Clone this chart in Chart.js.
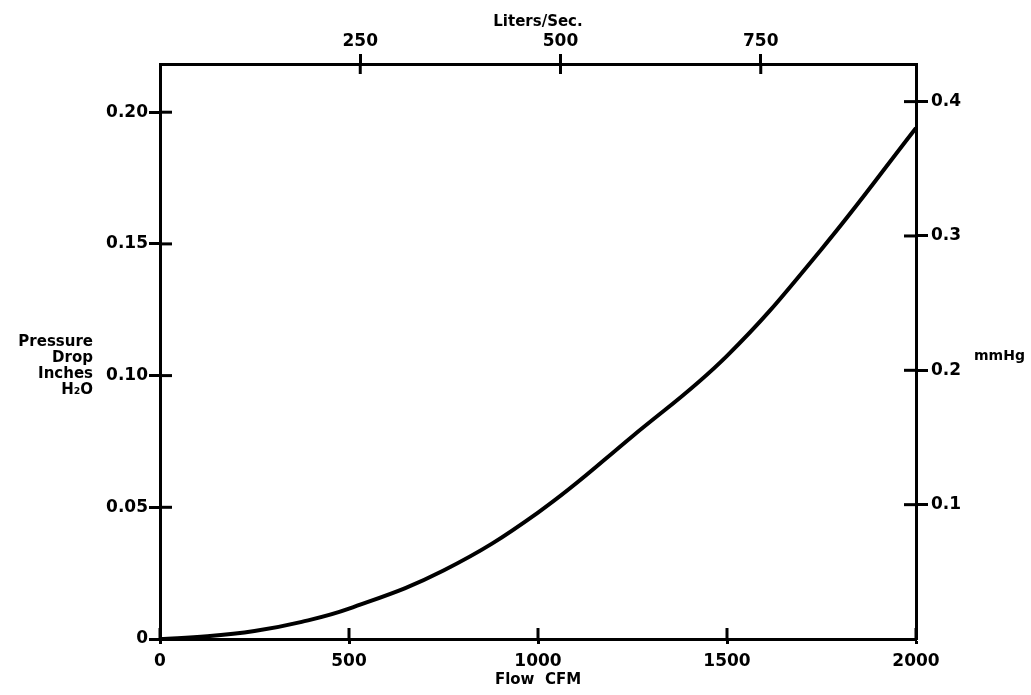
<!DOCTYPE html>
<html>
<head>
<meta charset="utf-8">
<script src="https://cdn.jsdelivr.net/npm/chart.js@4.4.1/dist/chart.umd.min.js"></script>
<style>
  html, body { margin: 0; padding: 0; background: #fff; }
  #wrap { width: 1031px; height: 695px; }
</style>
</head>
<body>
<div id="wrap"><canvas id="chart"></canvas></div>
<script>
// Flow in CFM vs pressure drop in inches of water
const flowCfm = [0, 125, 250, 375, 500, 750, 1000, 1250, 1500, 1750, 2000];
const pressureDrop = [0, 0.001, 0.003, 0.0065, 0.0115, 0.026, 0.048, 0.077, 0.1075, 0.148, 0.194];

const bottomTicks = [0, 500, 1000, 1500, 2000];
const leftTicks = [0, 0.05, 0.10, 0.15, 0.20];
const topTicks = [250, 500, 750];      // liters / sec
const rightTicks = [0.1, 0.2, 0.3, 0.4]; // mmHg
const leftTitle = ["Pressure", "Drop", "Inches", "H\u2082O"];

const LPS_PER_CFM = 0.4719;
const FONT = "'DejaVu Sans', sans-serif";

const innerTicks = {
    id: 'innerTicks',
    afterDraw(chart) {
        const ctx = chart.ctx;
        const lens = {x: 11, x2: 10, y: 12, y2: 12};
        ctx.save();
        ctx.strokeStyle = '#000';
        ctx.lineWidth = 3;
        Object.keys(lens).forEach(id => {
            const s = chart.scales[id];
            const L = lens[id];
            s.ticks.forEach(t => {
                const p = s.getPixelForValue(t.value);
                ctx.beginPath();
                if (id === 'x') { ctx.moveTo(p, s.top); ctx.lineTo(p, s.top - L); }
                if (id === 'x2') { ctx.moveTo(p, s.bottom); ctx.lineTo(p, s.bottom + L); }
                if (id === 'y') { ctx.moveTo(s.right, p); ctx.lineTo(s.right + L, p); }
                if (id === 'y2') { ctx.moveTo(s.left, p); ctx.lineTo(s.left - L, p); }
                ctx.stroke();
            });
        });
        // left axis title, stacked and right aligned
        ctx.fillStyle = '#000';
        ctx.font = "bold 15px " + FONT;
        ctx.textAlign = 'right';
        ctx.textBaseline = 'middle';
        leftTitle.forEach((line, i) => ctx.fillText(line, 93, 342 + i * 16));
        // right axis title
        ctx.textAlign = 'left';
        ctx.font = "bold 14px " + FONT;
        ctx.fillText('mmHg', 974, 356);
        ctx.restore();
    }
};

function axisStyle(tickLength, padding) {
    return {
        grid: {drawOnChartArea: false, drawTicks: true, tickLength, tickWidth: 3, tickColor: '#000'},
        border: {display: true, color: '#000', width: 3},
        ticks: {color: '#000', font: {family: FONT, weight: 'bold', size: 17}, padding},
    };
}

const x = axisStyle(5, 7);
Object.assign(x, {
    type: 'linear', position: 'bottom', min: 0, max: 2000,
    afterBuildTicks: s => { s.ticks = bottomTicks.map(v => ({value: v})); },
    afterFit: s => { s.height = 56; },
    title: {display: true, text: 'Flow  CFM', color: '#000',
        font: {family: FONT, weight: 'bold', size: 15}, padding: {top: 0, bottom: 6}},
});
x.ticks.callback = v => String(v);

const x2 = axisStyle(10, 2);
Object.assign(x2, {
    type: 'linear', position: 'top', min: 0, max: 2000 * LPS_PER_CFM,
    afterBuildTicks: s => { s.ticks = topTicks.map(v => ({value: v})); },
    afterFit: s => { s.height = 64; },
    title: {display: true, text: 'Liters/Sec.', color: '#000',
        font: {family: FONT, weight: 'bold', size: 15}, padding: {top: 13, bottom: 0}},
});
x2.ticks.callback = v => String(v);

const y = axisStyle(11, 1);
Object.assign(y, {
    type: 'linear', position: 'left', min: 0, max: 0.2183,
    afterBuildTicks: s => { s.ticks = leftTicks.map(v => ({value: v})); },
    afterFit: s => { s.width = 160; },
});
y.ticks.callback = v => v === 0 ? '0' : v.toFixed(2);

const y2 = axisStyle(12, 3);
Object.assign(y2, {
    type: 'linear', position: 'right', min: 0, max: 0.428,
    afterBuildTicks: s => { s.ticks = rightTicks.map(v => ({value: v})); },
    afterFit: s => { s.width = 115; },
});
y2.ticks.callback = v => String(v);

new Chart(document.getElementById('chart'), {
    type: 'line',
    data: {
        datasets: [{
            data: flowCfm.map((f, i) => ({x: f, y: pressureDrop[i]})),
            borderColor: '#000',
            borderWidth: 4,
            pointRadius: 0,
            tension: 0.4,
            xAxisID: 'x',
            yAxisID: 'y',
        }]
    },
    options: {
        responsive: true,
        maintainAspectRatio: false,
        animation: false,
        layout: {padding: 0},
        plugins: {legend: {display: false}, tooltip: {enabled: false}},
        scales: {x, x2, y, y2},
    },
    plugins: [innerTicks],
});
</script>
</body>
</html>
